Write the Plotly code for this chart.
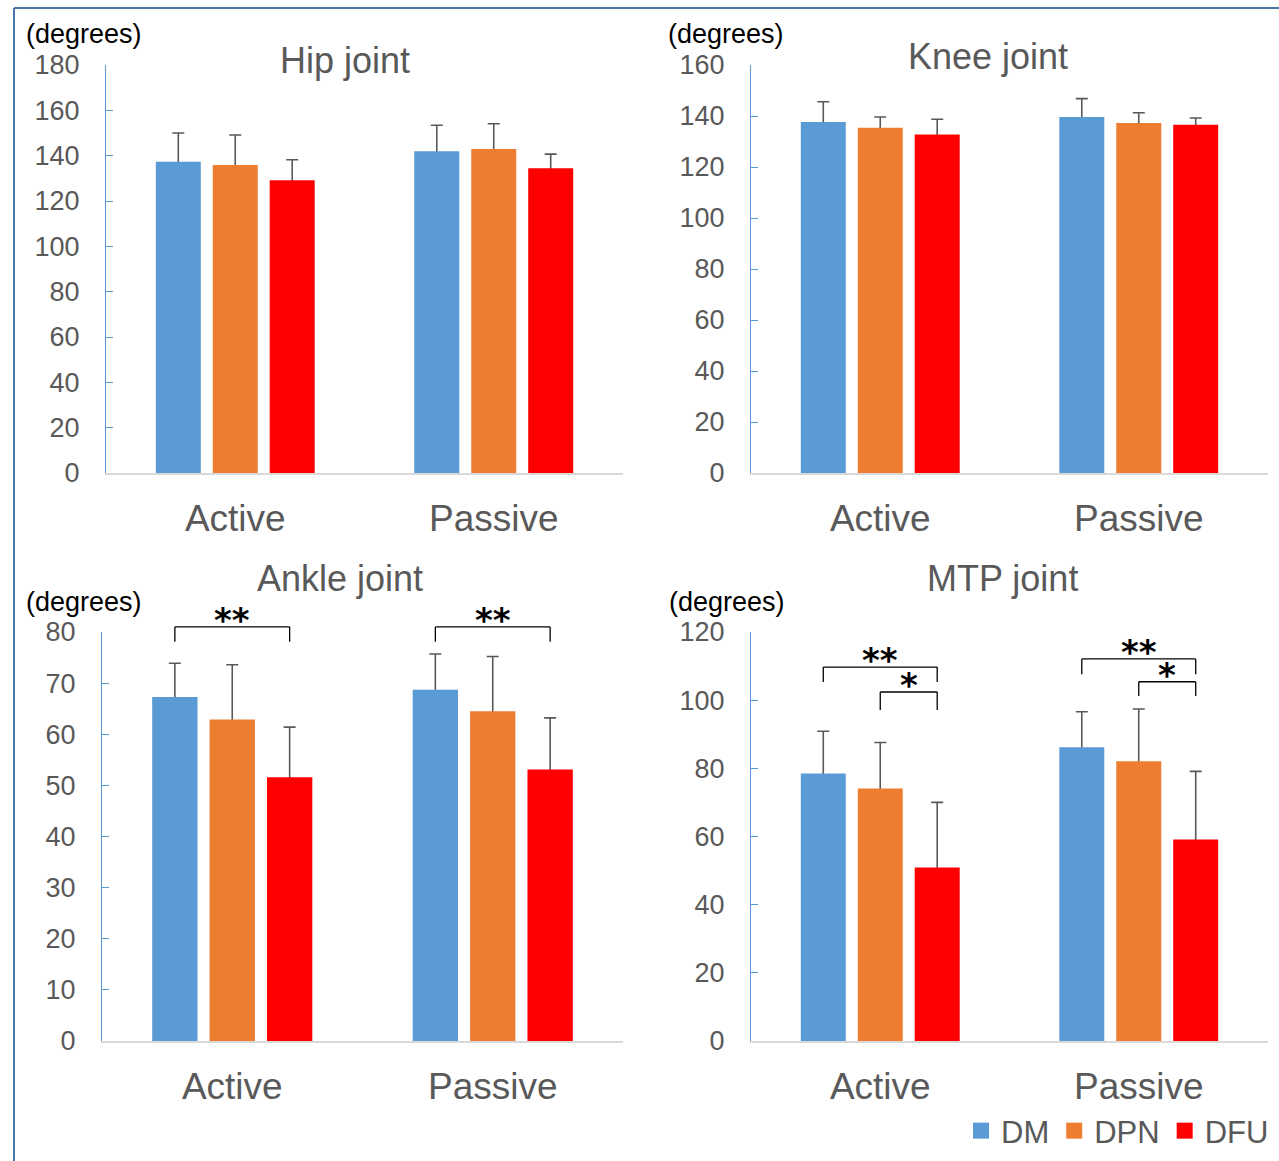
import plotly.graph_objects as go

# ---- data -------------------------------------------------------------
categories = ["Active", "Passive"]
groups = ["DM", "DPN", "DFU"]
group_colors = ["#5b9bd5", "#ed7d31", "#ff0000"]

hip_dm = [137.3, 142.0]
hip_dm_sd = [12.7, 11.4]
hip_dpn = [135.9, 142.9]
hip_dpn_sd = [13.2, 11.2]
hip_dfu = [129.2, 134.4]
hip_dfu_sd = [9.0, 6.3]

knee_dm = [137.6, 139.6]
knee_dm_sd = [8.0, 7.2]
knee_dpn = [135.4, 137.3]
knee_dpn_sd = [4.2, 4.0]
knee_dfu = [132.7, 136.6]
knee_dfu_sd = [6.0, 2.6]

ankle_dm = [67.3, 68.7]
ankle_dm_sd = [6.6, 7.0]
ankle_dpn = [62.9, 64.5]
ankle_dpn_sd = [10.7, 10.7]
ankle_dfu = [51.6, 53.1]
ankle_dfu_sd = [9.8, 10.1]

mtp_dm = [78.5, 86.2]
mtp_dm_sd = [12.4, 10.4]
mtp_dpn = [74.1, 82.1]
mtp_dpn_sd = [13.5, 15.3]
mtp_dfu = [50.9, 59.1]
mtp_dfu_sd = [19.1, 20.0]

# significance brackets: (category index, from group, to group, top, leg end, label)
ankle_sig = [(0, "DM", "DFU", 81.0, 78.1, "**"),
             (1, "DM", "DFU", 81.0, 78.1, "**")]
mtp_sig = [(0, "DM", "DFU", 109.7, 105.3, "**"),
           (0, "DPN", "DFU", 102.4, 97.1, "*"),
           (1, "DM", "DFU", 112.1, 107.6, "**"),
           (1, "DPN", "DFU", 105.4, 101.2, "*")]

panels = [
    dict(title="Hip joint", ymax=180, means=[hip_dm, hip_dpn, hip_dfu],
         sds=[hip_dm_sd, hip_dpn_sd, hip_dfu_sd], sig=[]),
    dict(title="Knee joint", ymax=160, means=[knee_dm, knee_dpn, knee_dfu],
         sds=[knee_dm_sd, knee_dpn_sd, knee_dfu_sd], sig=[]),
    dict(title="Ankle joint", ymax=80, means=[ankle_dm, ankle_dpn, ankle_dfu],
         sds=[ankle_dm_sd, ankle_dpn_sd, ankle_dfu_sd], sig=ankle_sig),
    dict(title="MTP joint", ymax=120, means=[mtp_dm, mtp_dpn, mtp_dfu],
         sds=[mtp_dm_sd, mtp_dpn_sd, mtp_dfu_sd], sig=mtp_sig),
]
ytick_steps = [20, 20, 10, 20]

# ---- layout geometry (pixels in a 1279 x 1161 page) -------------------
W, H = 1279, 1161
boxes = [  # left, right, top, bottom of each plotting area
    (106, 623, 65, 473),
    (751, 1268, 65, 473),
    (102, 623, 632, 1041),
    (751, 1268, 632, 1041),
]
title_pos = [(0.462, 1.012), (0.458, 1.02), (0.457, 1.132), (0.487, 1.132)]
degrees_pos = [(84, 34), (726, 34), (84, 602), (727, 602)]

GRAY = "#595959"
FONT = "Liberation Sans, Arial, sans-serif"
BARGAP = 0.339
BARGROUPGAP = 0.21

fig = go.Figure()
layout = dict(
    width=W, height=H,
    margin=dict(l=0, r=0, t=0, b=0, autoexpand=False),
    paper_bgcolor="white", plot_bgcolor="white",
    barmode="group", bargap=BARGAP, bargroupgap=BARGROUPGAP,
    font=dict(family=FONT, color=GRAY),
    showlegend=True,
    legend=dict(orientation="h", x=1274 / W, xanchor="right",
                y=1 - 1131 / H, yanchor="middle",
                font=dict(size=31, color=GRAY, family=FONT),
                itemwidth=30, tracegroupgap=0, bgcolor="rgba(0,0,0,0)"),
)
annotations = []
shapes = []
npan = len(panels)

for k, p in enumerate(panels):
    n = k + 1
    xa = "x" if n == 1 else f"x{n}"
    ya = "y" if n == 1 else f"y{n}"
    # the coloured bars live on an overlaid y axis so that they sit above the
    # error bars, leaving only the part above each bar visible
    yo = f"y{n + npan}"
    l, r, t, b = boxes[k]

    for gi, g in enumerate(groups):
        fig.add_trace(go.Bar(
            x=categories, y=p["means"][gi], xaxis=xa, yaxis=ya,
            offsetgroup=g, showlegend=False, hoverinfo="skip",
            marker=dict(color="rgba(0,0,0,0)", line=dict(width=0)),
            error_y=dict(type="data", symmetric=False, array=p["sds"][gi],
                         arrayminus=[0.02 * p["ymax"]] * len(categories),
                         color=GRAY, thickness=1.6, width=6),
        ))
    for gi, g in enumerate(groups):
        fig.add_trace(go.Bar(
            x=categories, y=p["means"][gi], xaxis=xa, yaxis=yo,
            offsetgroup=g, name=g, showlegend=False,
            marker=dict(color=group_colors[gi], line=dict(width=0)),
        ))

    layout["xaxis" if n == 1 else f"xaxis{n}"] = dict(
        domain=[l / W, r / W], anchor=ya, type="category",
        range=[-0.5, len(categories) - 0.5],
        showline=True, linecolor="#d9d9d9", linewidth=2,
        ticks="", showgrid=False, zeroline=False,
        tickfont=dict(size=37, color=GRAY, family=FONT),
        ticklabelstandoff=12,
    )
    layout["yaxis" if n == 1 else f"yaxis{n}"] = dict(
        domain=[1 - b / H, 1 - t / H], anchor=xa,
        range=[0, p["ymax"]], dtick=ytick_steps[k], tick0=0,
        showline=True, linecolor="#5b9bd5", linewidth=1.3,
        ticks="inside", ticklen=7, tickcolor="#5b9bd5", tickwidth=1.3,
        showgrid=False, zeroline=False,
        tickfont=dict(size=27, color=GRAY, family=FONT),
        ticklabelstandoff=20,
    )
    layout[f"yaxis{n + npan}"] = dict(
        overlaying=ya, anchor=xa, range=[0, p["ymax"]], visible=False,
        showgrid=False, zeroline=False,
    )

    tx, ty = title_pos[k]
    annotations.append(dict(
        text=p["title"], xref=f"{xa} domain", yref=f"{ya} domain",
        x=tx, y=ty, xanchor="center", yanchor="middle", showarrow=False,
        font=dict(size=36, color=GRAY, family=FONT)))
    dx, dy = degrees_pos[k]
    annotations.append(dict(
        text="(degrees)", xref="paper", yref="paper",
        x=dx / W, y=1 - dy / H, xanchor="center", yanchor="middle",
        showarrow=False, font=dict(size=27, color="black", family=FONT)))

    # significance brackets, positioned through the category / value scales
    slot = (1 - BARGAP) / len(groups)
    ncat = len(categories)
    for ci, g0, g1, ytop, yleg, lab in p["sig"]:
        xs = [ci + (groups.index(g) - 1) * slot for g in (g0, g1)]
        xd = [(v + 0.5) / ncat for v in xs]
        yt = ytop / p["ymax"]
        yl = yleg / p["ymax"]
        line = dict(color="black", width=1.3)
        common = dict(type="line", xref=f"{xa} domain", yref=f"{ya} domain",
                      line=line)
        shapes.append(dict(common, x0=xd[0], x1=xd[0], y0=yl, y1=yt))
        shapes.append(dict(common, x0=xd[0], x1=xd[1], y0=yt, y1=yt))
        shapes.append(dict(common, x0=xd[1], x1=xd[1], y0=yt, y1=yl))
        annotations.append(dict(
            text=f"<b>{lab}</b>", xref=f"{xa} domain", yref=f"{ya} domain",
            x=(xd[0] + xd[1]) / 2, y=yt, xanchor="center", yanchor="bottom",
            yshift=-15, showarrow=False,
            font=dict(size=34, color="black", family="DejaVu Sans")))

# legend entries
for gi, g in enumerate(groups):
    fig.add_trace(go.Scatter(
        x=[None], y=[None], mode="markers", name=g,
        marker=dict(symbol="square", size=16, color=group_colors[gi]),
        showlegend=True))

# outer frame (left and top edges)
frame = dict(color="#4a76a8", width=2)
shapes.append(dict(type="line", xref="paper", yref="paper",
                   x0=14 / W, x1=14 / W, y0=0, y1=1 - 8 / H, line=frame))
shapes.append(dict(type="line", xref="paper", yref="paper",
                   x0=14 / W, x1=1, y0=1 - 8 / H, y1=1 - 8 / H, line=frame))

layout["annotations"] = annotations
layout["shapes"] = shapes
fig.update_layout(**layout)

fig.write_html("out.html")
